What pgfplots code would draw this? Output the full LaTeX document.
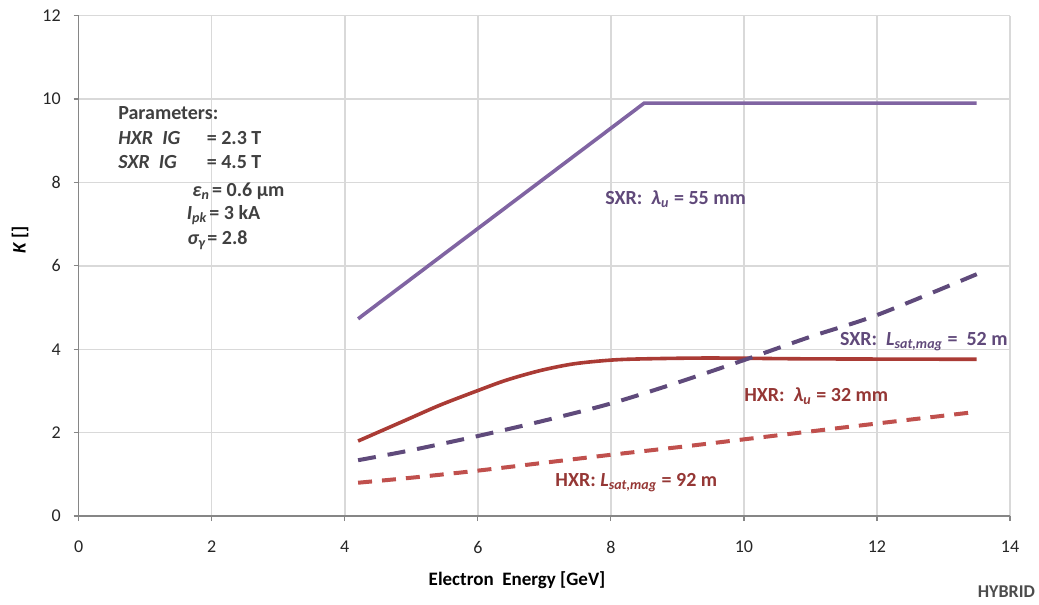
\documentclass[border=0pt]{standalone}
\usepackage{pgfplots}
\pgfplotsset{compat=1.18}
\usepackage{fontspec}
\setmainfont{Carlito}
\definecolor{sxrsolid}{HTML}{8064A2}
\definecolor{sxrdash}{HTML}{5F4A7B}
\definecolor{hxrsolid}{HTML}{AA3B35}
\definecolor{hxrdash}{HTML}{C0504D}
\definecolor{sxrtext}{HTML}{60497A}
\definecolor{hxrtext}{HTML}{953735}
\definecolor{gridc}{HTML}{D9D9D9}
\definecolor{axc}{HTML}{868686}
\begin{document}
\begin{tikzpicture}
\useasboundingbox (-39.35pt,-44.45pt) rectangle (480.15pt,258.05pt);
\begin{axis}[
  scale only axis,
  width=465.65pt, height=250.25pt,
  at={(0,0)}, anchor=south west,
  xmin=0, xmax=14, ymin=0, ymax=12,
  xtick={0,2,...,14}, ytick={0,2,...,12},
  axis lines*=left,
  axis line style={draw=axc, line width=0.6pt, -},
  grid=major,
  major grid style={draw=gridc, line width=0.75pt},
  tick align=outside,
  major tick length=2.5pt,
  tick style={draw=axc, line width=0.6pt},
  ticklabel style={font=\fontsize{9}{10}\selectfont, text=black!85},
  /pgf/number format/assume math mode=true,
  xticklabel style={yshift=-6.5pt},
  yticklabel style={xshift=-3pt},
  clip=false,
]
\addplot[sxrsolid, line width=1.8pt] coordinates {(4.2,4.73) (8.5,9.9) (13.5,9.9)};
\addplot[hxrsolid, line width=1.8pt, smooth, tension=0.5] coordinates {
(4.2,1.80) (4.93,2.31) (5.43,2.66) (6,3.01) (6.43,3.26) (6.94,3.49) (7.44,3.65) (8,3.74) (8.5,3.77) (9.5,3.79) (11,3.77) (13.5,3.76)};
\addplot[sxrdash, line width=2pt, dash pattern=on 9pt off 6pt, smooth, tension=0.5] coordinates {
(4.2,1.34) (5,1.58) (6,1.92) (7,2.29) (8,2.70) (9,3.20) (10,3.74) (11,4.30) (12,4.82) (13.5,5.80)};
\addplot[hxrdash, line width=2pt, dash pattern=on 7pt off 5pt, smooth, tension=0.5] coordinates {
(4.2,0.80) (5,0.92) (6,1.09) (7,1.28) (8,1.47) (9,1.65) (10,1.84) (11,2.03) (12,2.22) (13.5,2.50)};

\node[anchor=base west, font=\fontsize{10}{12}\selectfont\bfseries, text=black!75, inner sep=0pt, align=left] at (axis cs:0.59,9.50) {Parameters:};
\node[anchor=base west, font=\fontsize{10}{12}\selectfont\bfseries, text=black!75, inner sep=0pt] at (axis cs:0.59,8.90) {\itshape HXR\ \ IG};
\node[anchor=base west, font=\fontsize{10}{12}\selectfont\bfseries, text=black!75, inner sep=0pt] at (axis cs:1.92,8.90) {= 2.3 T};
\node[anchor=base west, font=\fontsize{10}{12}\selectfont\bfseries, text=black!75, inner sep=0pt] at (axis cs:0.59,8.34) {\itshape SXR\ \ IG};
\node[anchor=base west, font=\fontsize{10}{12}\selectfont\bfseries, text=black!75, inner sep=0pt] at (axis cs:1.92,8.34) {= 4.5 T};
\node[anchor=base east, font=\fontsize{10}{12}\selectfont\bfseries, text=black!75, inner sep=0pt] at (axis cs:1.98,7.66) {\itshape ε\textsubscript{n}};
\node[anchor=base west, font=\fontsize{10}{12}\selectfont\bfseries, text=black!75, inner sep=0pt] at (axis cs:2.0,7.66) {= 0.6 µm};
\node[anchor=base east, font=\fontsize{10}{12}\selectfont\bfseries, text=black!75, inner sep=0pt] at (axis cs:1.94,7.10) {\itshape I\textsubscript{pk}};
\node[anchor=base west, font=\fontsize{10}{12}\selectfont\bfseries, text=black!75, inner sep=0pt] at (axis cs:1.96,7.10) {= 3 kA};
\node[anchor=base east, font=\fontsize{10}{12}\selectfont\bfseries, text=black!75, inner sep=0pt] at (axis cs:1.92,6.50) {\itshape σ\textsubscript{γ}};
\node[anchor=base west, font=\fontsize{10}{12}\selectfont\bfseries, text=black!75, inner sep=0pt] at (axis cs:1.93,6.50) {= 2.8};

\node[anchor=base west, font=\fontsize{10}{12}\selectfont\bfseries, text=sxrtext, inner sep=0pt] at (axis cs:7.91,7.46) {SXR:\ \ \textit{λ}\textsubscript{\textit{u}} = 55 mm};
\node[anchor=base east, font=\fontsize{10}{12}\selectfont\bfseries, text=sxrtext, inner sep=0pt] at (axis cs:13.97,4.10) {SXR:\ \ \textit{L}\textsubscript{\textit{sat,mag}} =\ \ 52 m};
\node[anchor=base west, font=\fontsize{10}{12}\selectfont\bfseries, text=hxrtext, inner sep=0pt] at (axis cs:10.0,2.74) {HXR:\ \ \textit{λ}\textsubscript{\textit{u}} = 32 mm};
\node[anchor=base west, font=\fontsize{10}{12}\selectfont\bfseries, text=hxrtext, inner sep=0pt] at (axis cs:7.16,0.70) {HXR: \textit{L}\textsubscript{\textit{sat,mag}} = 92 m};

\node[rotate=90, font=\fontsize{9.5}{11}\selectfont\bfseries, inner sep=0pt] at (axis cs:-0.88,6.62) {\textit{K} []};
\node[font=\fontsize{9.5}{11}\selectfont\bfseries, inner sep=0pt] at (axis cs:6.59,-1.535) {Electron\ \ Energy [GeV]};
\node[anchor=east, font=\fontsize{9}{11}\selectfont\bfseries, text=black!70, inner sep=0pt] at (axis cs:14.38,-1.82) {HYBRID};
\end{axis}
\end{tikzpicture}
\end{document}
